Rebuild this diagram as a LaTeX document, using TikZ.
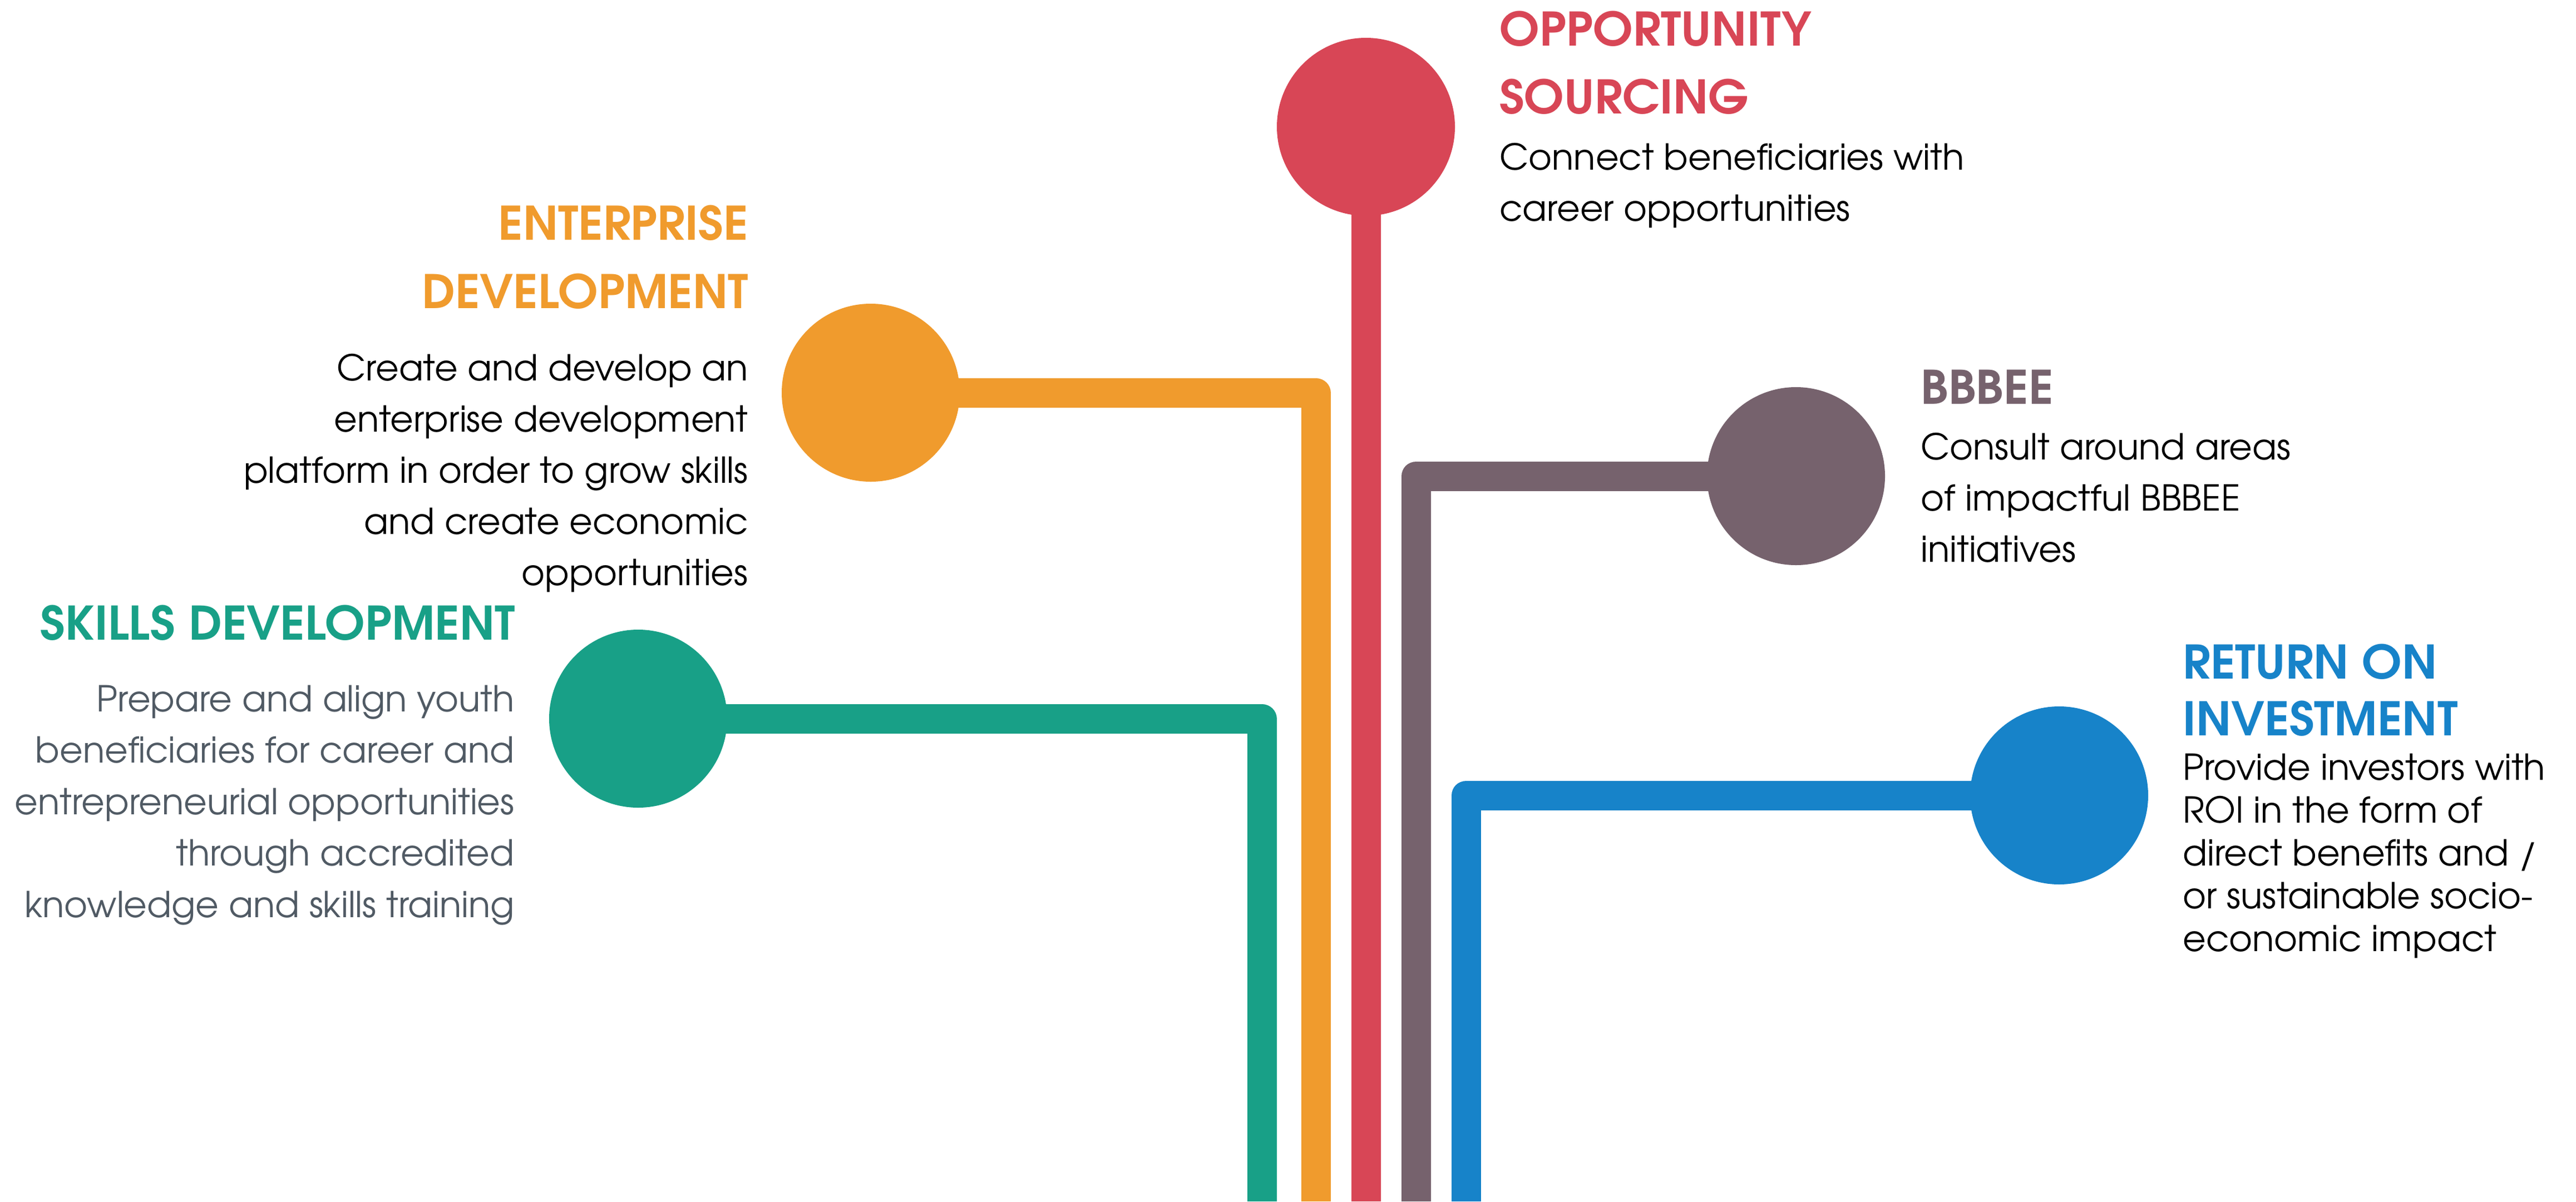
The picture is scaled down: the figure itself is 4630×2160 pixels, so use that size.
\documentclass[tikz,border=0pt]{standalone}
\usepackage{fontspec}
\setmainfont{texgyreadventor}[Extension=.otf, UprightFont=*-regular, BoldFont=*-bold, ItalicFont=*-italic, BoldItalicFont=*-bolditalic]
\newfontfamily\headfont{texgyreadventor-bold}[Extension=.otf, FakeStretch=1.03]
\definecolor{cGreen}{HTML}{18A087}
\definecolor{cOrange}{HTML}{F09B2D}
\definecolor{cRed}{HTML}{D84656}
\definecolor{cMauve}{HTML}{76626D}
\definecolor{cBlue}{HTML}{1783C9}
\definecolor{cSlate}{HTML}{505A64}
\begin{document}
\begin{tikzpicture}[x=0.5pt,y=-0.5pt,
  branch/.style={line width=26.5pt, line join=round, line cap=butt},
  dot/.style={circle, minimum size=160pt, inner sep=0pt, draw=none},
  head/.style={font=\headfont\fontsize{41.6}{50}\selectfont, inner sep=0pt},
  body/.style={font=\fontsize{32.1}{40}\selectfont, inner sep=0pt, text=black}]
\useasboundingbox (0,0) rectangle (4630,2160);
\fill[white] (0,0) rectangle (4630,2160);
\begin{scope}
\clip (0,0) rectangle (4630,2160);
% circles
\node[dot, fill=cGreen] (sd) at (1147,1292) {};
\node[dot, fill=cOrange] (ed) at (1565,706) {};
\node[dot, fill=cRed] (os) at (2455,228) {};
\node[dot, fill=cMauve] (bb) at (3228,856) {};
\node[dot, fill=cBlue] (roi) at (3701,1430) {};
% free ends at the bottom edge
\coordinate (sdEnd) at (2268,2160);
\coordinate (edEnd) at (2365,2160);
\coordinate (osEnd) at (2455,2160);
\coordinate (bbEnd) at (2545,2160);
\coordinate (roiEnd) at (2635,2160);
% branches
\draw[branch, cGreen] (sd.center) -| (sdEnd);
\draw[branch, cOrange] (ed.center) -| (edEnd);
\draw[branch, cRed] (os.center) -- (osEnd);
\draw[branch, cMauve] (bb.center) -| (bbEnd);
\draw[branch, cBlue] (roi.center) -| (roiEnd);
\end{scope}
% Opportunity sourcing
\node[head, text=cRed, anchor=base west] (osh1) at (2695,82) {OPPORTUNITY};
\node[head, text=cRed, anchor=base west] (osh2) at (2695,204) {SOURCING};
\node[body, anchor=base west] (osb1) at (2695,305) {Connect beneficiaries with};
\node[body, anchor=base west] (osb2) at (2695,397) {career opportunities};
% Enterprise development
\node[head, text=cOrange, anchor=base east] (edh1) at (1345,431) {ENTERPRISE};
\node[head, text=cOrange, anchor=base east] (edh2) at (1345,554) {DEVELOPMENT};
\foreach \t [count=\i] in {Create and develop an, enterprise development, platform in order to grow skills, and create economic, opportunities}
  \node[body, anchor=base east] (edb\i) at (1345,{684+92*(\i-1)}) {\t};
% Skills development
\node[head, text=cGreen, anchor=base east] (sdh1) at (926,1150) {SKILLS DEVELOPMENT};
\foreach \t [count=\i] in {Prepare and align youth, beneficiaries for career and, entrepreneurial opportunities, through accredited, knowledge and skills training}
  \node[body, text=cSlate, anchor=base east] (sdb\i) at (925,{1279+92.5*(\i-1)}) {\t};
% BBBEE
\node[head, text=cMauve, anchor=base west] (bbh1) at (3452,726) {BBBEE};
\foreach \t [count=\i] in {Consult around areas, of impactful BBBEE, initiatives}
  \node[body, anchor=base west] (bbb\i) at (3452,{826+92*(\i-1)}) {\t};
% Return on investment
\node[head, text=cBlue, anchor=base west] (roih1) at (3923,1220) {RETURN ON};
\node[head, text=cBlue, anchor=base west] (roih2) at (3923,1322) {INVESTMENT};
\foreach \t [count=\i] in {Provide investors with, ROI in the form of, direct benefits and /, or sustainable socio-, economic impact}
  \node[body, anchor=base west] (roib\i) at (3923,{1402+77*(\i-1)}) {\t};
\end{tikzpicture}
\end{document}
